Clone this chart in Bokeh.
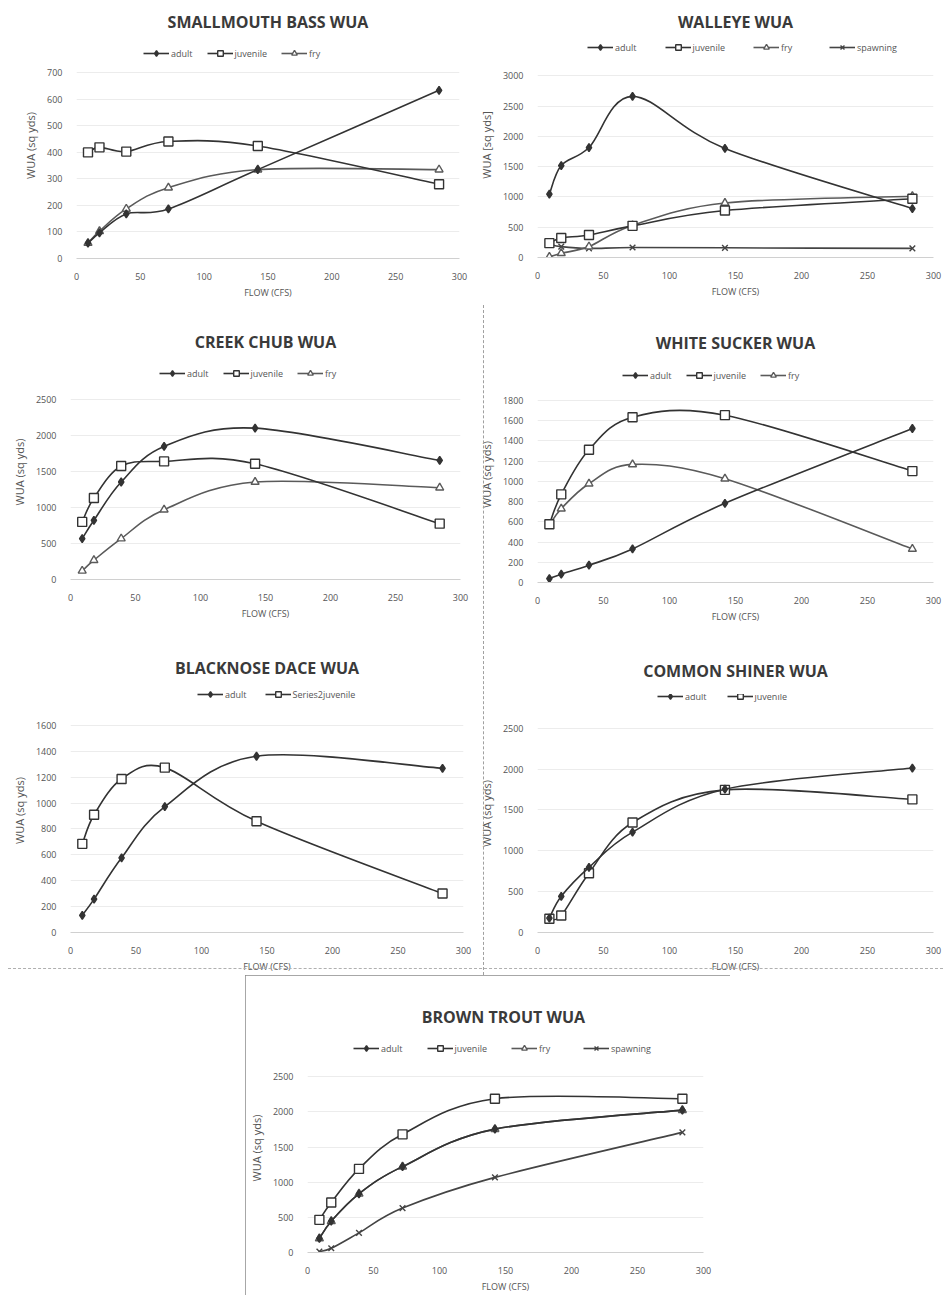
from bokeh.plotting import figure
from bokeh.models import (Legend, LegendItem, Range1d, FixedTicker,
                          SingleIntervalTicker, ColumnDataSource)
from bokeh.embed import file_html
from bokeh.resources import INLINE

FONT = "Open Sans"

# ---------------- data ----------------
FLOW = [9, 18, 39, 72, 142, 284]

SMB_ADULT = [58, 97, 168, 187, 335, 634]
SMB_JUV = [400, 419, 403, 441, 424, 280]
SMB_FRY = [58, 103, 187, 267, 335, 335]

WAL_ADULT = [1045, 1518, 1815, 2660, 1800, 808]
WAL_JUV = [237, 323, 372, 522, 775, 969]
WAL_FRY = [10, 70, 180, 530, 900, 1010]
WAL_SPAWN = [220, 180, 150, 165, 160, 150]

CC_ADULT = [568, 822, 1354, 1848, 2102, 1654]
CC_JUV = [800, 1132, 1576, 1640, 1608, 776]
CC_FRY = [120, 268, 568, 970, 1354, 1275]

WS_ADULT = [39, 82, 171, 332, 783, 1523]
WS_JUV = [576, 872, 1313, 1635, 1655, 1102]
WS_FRY = [570, 730, 977, 1168, 1027, 332]

BD_ADULT = [133, 258, 577, 973, 1362, 1269]
BD_JUV = [685, 910, 1186, 1274, 860, 301]

CS_ADULT = [177, 443, 797, 1228, 1754, 2013]
CS_JUV = [169, 208, 726, 1346, 1746, 1629]

BT_ADULT = [200, 446, 836, 1222, 1756, 2026]
BT_JUV = [465, 711, 1190, 1682, 2189, 2189]
BT_FRY = [200, 446, 836, 1222, 1756, 2026]   # hidden under the adult curve
BT_SPAWN = [14, 60, 279, 632, 1069, 1710]

STYLE = {
    "adult": dict(marker="diamond", size=8, fill="#333333", color="#333333"),
    "juvenile": dict(marker="square", size=9, fill="#ffffff", color="#333333"),
    "fry": dict(marker="triangle", size=8, fill="#ffffff", color="#5a5a5a"),
    "spawning": dict(marker="x", size=8, fill="#ffffff", color="#444444"),
}


def smooth(xs, ys):
    """Excel-like smoothed line: cubic Bezier segments between the data points."""
    n = len(xs)
    d = {k: [] for k in ("x0", "y0", "x1", "y1", "cx0", "cy0", "cx1", "cy1")}
    for i in range(n - 1):
        ip = max(i - 1, 0)
        inn = min(i + 2, n - 1)
        d["x0"].append(xs[i]); d["y0"].append(ys[i])
        d["x1"].append(xs[i + 1]); d["y1"].append(ys[i + 1])
        d["cx0"].append(xs[i] + (xs[i + 1] - xs[ip]) / 6.0)
        d["cy0"].append(ys[i] + (ys[i + 1] - ys[ip]) / 6.0)
        d["cx1"].append(xs[i + 1] - (xs[inn] - xs[i]) / 6.0)
        d["cy1"].append(ys[i + 1] - (ys[inn] - ys[i]) / 6.0)
    return d


def make_chart(title, ylab, ymax, ystep, series, width, height,
               bl, br, bt, bb, title_c, leg_x, leg_c, leg_spacing=14):
    # bt: distance figure-top -> top of the data area; title_c / leg_c:
    # distance of the title / legend centre above the top of the data area.
    data_h = height - bt - bb
    ext = max(leg_c + 9, 2 * title_c - bt)          # legend strip on top of data
    standoff = max(0, 2 * (title_c - ext) - 21)
    frame_h = data_h + ext
    p = figure(width=width, height=height,
               x_range=Range1d(0, 300),
               y_range=Range1d(0, ymax * frame_h / data_h),
               output_backend="svg", toolbar_location=None,
               min_border_left=bl, min_border_right=br,
               min_border_top=bt - ext, min_border_bottom=bb,
               background_fill_color="white", border_fill_color="white",
               outline_line_color=None)
    p.title.text = title
    p.title.align = "center"
    p.title.text_font = FONT
    p.title.text_font_size = "16px"
    p.title.text_font_style = "bold"
    p.title.text_color = "#3a3a3a"
    p.title.standoff = standoff

    p.xaxis.ticker = SingleIntervalTicker(interval=50)
    p.yaxis.ticker = FixedTicker(ticks=list(range(0, ymax + 1, ystep)))
    p.xaxis.axis_label = "FLOW (CFS)"
    p.yaxis.axis_label = ylab
    for ax in (p.xaxis[0], p.yaxis[0]):
        ax.major_tick_line_color = None
        ax.minor_tick_line_color = None
        ax.major_label_text_font = FONT
        ax.major_label_text_font_size = "9px"
        ax.major_label_text_color = "#555555"
        ax.axis_label_text_font = FONT
        ax.axis_label_text_font_style = "normal"
        ax.axis_label_text_color = "#555555"
    p.xaxis.axis_label_text_font_size = "9px"
    p.yaxis.axis_label_text_font_size = "11px"
    p.xaxis.axis_line_color = "#d0d0d0"
    p.yaxis.axis_line_color = None
    p.xaxis.major_label_standoff = 8
    p.xaxis.axis_label_standoff = 3
    p.yaxis.major_label_standoff = 8
    p.yaxis.axis_label_standoff = 6
    p.xgrid.grid_line_color = None
    p.ygrid.grid_line_color = "#ececec"

    rend = {}
    for label, key, xs, ys in reversed(series):
        st = STYLE[key]
        src = ColumnDataSource(smooth(xs, ys))
        r_line = p.bezier(x0="x0", y0="y0", x1="x1", y1="y1",
                          cx0="cx0", cy0="cy0", cx1="cx1", cy1="cy1",
                          source=src, line_color=st["color"], line_width=1.6)
        r_mark = p.scatter(xs, ys, marker=st["marker"], size=st["size"],
                           fill_color=st["fill"], line_color=st["color"],
                           line_width=1.4)
        rend[label] = [r_line, r_mark]
    items = [LegendItem(label=lab, renderers=rend[lab]) for lab, _, _, _ in series]

    leg = Legend(items=items, orientation="horizontal",
                 location=(leg_x, data_h + leg_c - 7),
                 label_text_font=FONT, label_text_font_size="9px",
                 label_text_color="#555555", glyph_width=26, glyph_height=14,
                 label_height=14, label_standoff=2, spacing=leg_spacing,
                 padding=0, margin=0, border_line_color=None,
                 background_fill_alpha=0)
    p.add_layout(leg)
    return p


f1 = make_chart("SMALLMOUTH BASS WUA", "WUA (sq yds)", 700, 100,
                [("adult", "adult", FLOW, SMB_ADULT),
                 ("juvenile", "juvenile", FLOW, SMB_JUV),
                 ("fry", "fry", FLOW, SMB_FRY)],
                467, 305, 68, 16, 61, 55, 51, 67, 16)

f2 = make_chart("WALLEYE WUA", "WUA [sq yds]", 3000, 500,
                [("adult", "adult", FLOW, WAL_ADULT),
                 ("juvenile", "juvenile", FLOW, WAL_JUV),
                 ("fry", "fry", FLOW, WAL_FRY),
                 ("spawning", "spawning", FLOW, WAL_SPAWN)],
                468, 305, 55, 10, 64, 56, 54, 50, 25, leg_spacing=28)

f3 = make_chart("CREEK CHUB WUA", "WUA (sq yds)", 2500, 500,
                [("adult", "adult", FLOW, CC_ADULT),
                 ("juvenile", "juvenile", FLOW, CC_JUV),
                 ("fry", "fry", FLOW, CC_FRY)],
                467, 332, 46, 15, 86, 66, 57, 89, 26)

f4 = make_chart("WHITE SUCKER WUA", "WUA (sq yds)", 1800, 200,
                [("adult", "adult", FLOW, WS_ADULT),
                 ("juvenile", "juvenile", FLOW, WS_JUV),
                 ("fry", "fry", FLOW, WS_FRY)],
                468, 332, 58, 10, 87, 63, 57, 85, 25)

f5 = make_chart("BLACKNOSE DACE WUA", "WUA (sq yds)", 1600, 200,
                [("adult", "adult", FLOW, BD_ADULT),
                 ("Series2juvenile", "juvenile", FLOW, BD_JUV)],
                467, 330, 47, 12, 78, 39, 58, 127, 25, leg_spacing=18)

f6 = make_chart("COMMON SHINER WUA", "WUA (sq yds)", 2500, 500,
                [("adult", "adult", FLOW, CS_ADULT),
                 ("juvenile", "juvenile", FLOW, CS_JUV)],
                468, 330, 60, 10, 81, 37, 58, 120, 24, leg_spacing=20)

f7 = make_chart("BROWN  TROUT WUA", "WUA (sq yds)", 2500, 500,
                [("adult", "adult", FLOW, BT_ADULT),
                 ("juvenile", "juvenile", FLOW, BT_JUV),
                 ("fry", "fry", FLOW, BT_FRY),
                 ("spawning", "spawning", FLOW, BT_SPAWN)],
                485, 320, 52, 27, 102, 39, 60, 46, 25, leg_spacing=24)

TEMPLATE = """
{% from macros import embed %}
{% block postamble %}
<style>
  .cell { position: absolute; overflow: hidden; }
  .c1 { left: 8px;   top: 8px;   width: 467px; height: 305px; }
  .c2 { left: 475px; top: 8px;   width: 468px; height: 305px; }
  .c3 { left: 8px;   top: 313px; width: 467px; height: 332px; }
  .c4 { left: 475px; top: 313px; width: 468px; height: 332px; }
  .c5 { left: 8px;   top: 645px; width: 467px; height: 330px; }
  .c6 { left: 475px; top: 645px; width: 468px; height: 330px; }
  .c7 { left: 245px; top: 975px; width: 485px; height: 320px;
        outline: 1px solid #8a8a8a; outline-offset: -1px; }
  .vsep { position: absolute; left: 483px; top: 305px; width: 0; height: 670px;
          border-left: 1px dashed #a0a0a0; z-index: 5; }
  .hsep { position: absolute; left: 8px; top: 968px; width: 935px; height: 0;
          border-top: 1px dashed #b0b0b0; z-index: 5; }
</style>
{% endblock %}
{% block contents %}
{% for doc in docs %}
{% for root in doc.roots %}
<div class="cell c{{ loop.index }}">{{ embed(root) }}</div>
{% endfor %}
{% endfor %}
<div class="vsep"></div>
<div class="hsep"></div>
{{ plot_script }}
{% endblock %}
"""

open("out.html", "w").write(file_html([f1, f2, f3, f4, f5, f6, f7], INLINE,
                                      template=TEMPLATE))
